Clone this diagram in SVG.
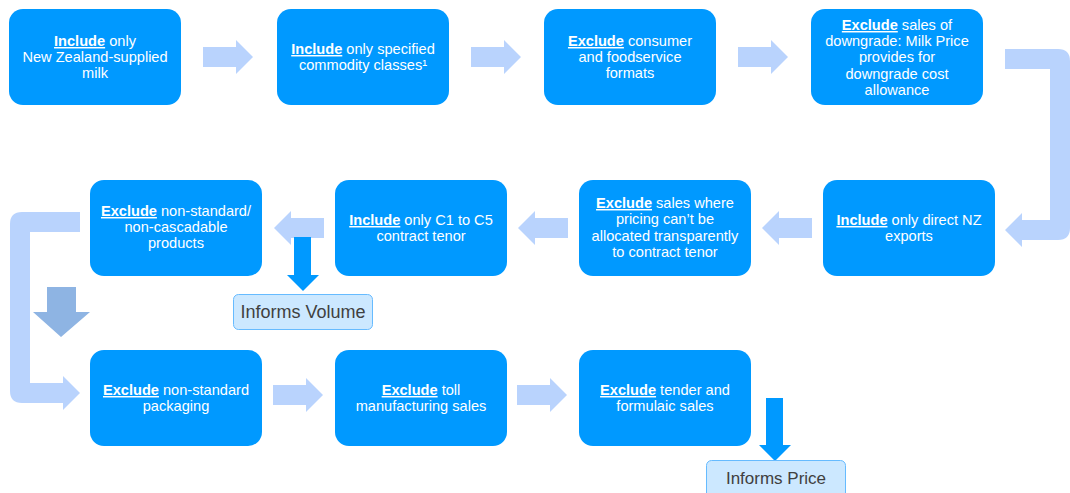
<svg xmlns="http://www.w3.org/2000/svg" width="1070" height="493" viewBox="0 0 1070 493">
<style>
.box{fill:#0099FF;}
.t{font-family:"Liberation Sans",Arial,sans-serif;font-size:14.6px;fill:#FFFFFF;text-anchor:middle;}
.k{font-weight:bold;text-decoration:underline;}
.arr{fill:#B9D3FD;}
.dn{fill:#0099FF;}
.dn2{fill:#8EB4E3;}
.inf{fill:#CCE8FF;stroke:#66BBFF;stroke-width:1;}
.it{font-family:"Liberation Sans",Arial,sans-serif;font-size:17px;fill:#404040;text-anchor:middle;}
</style>
<rect width="1070" height="493" fill="#FFFFFF"/>
<g id="connectors">
  <path class="arr" d="M203,47 H236 V40 L253,57 L236,74 V67 H203 Z"/>
  <path class="arr" d="M471,47 H504 V40 L521,57 L504,74 V67 H471 Z"/>
  <path class="arr" d="M738,47 H771 V40 L788,57 L771,74 V67 H738 Z"/>
  <path class="arr" d="M1005,49 H1058 Q1070,49 1070,61 V228 Q1070,240 1058,240 H1022 V247 L1005,230 L1022,213 V220 H1050 V69 H1005 Z"/>
  <path class="arr" d="M812,218 H779 V211 L762,228 L779,245 V238 H812 Z"/>
  <path class="arr" d="M568,218 H535 V211 L518,228 L535,245 V238 H568 Z"/>
  <path class="arr" d="M324,218 H291 V211 L274,228 L291,245 V238 H324 Z"/>
  <path class="dn" d="M294,237 H311 V275 H319 L303,291 L287,275 H294 Z"/>
  <path class="arr" d="M80,212 H22 Q10,212 10,224 V391 Q10,403 22,403 H63 V410 L80,393 L63,376 V383 H30 V232 H80 Z"/>
  <path class="dn2" d="M47,287 H76 V312 H90 L61,337 L33,312 H47 Z"/>
  <path class="arr" d="M273,385 H306 V378 L323,395 L306,412 V405 H273 Z"/>
  <path class="arr" d="M517,385 H550 V378 L567,395 L550,412 V405 H517 Z"/>
  <path class="dn" d="M766,398 H783 V445 H791 L775,461 L759,445 H766 Z"/>
</g>
<g id="n1"><rect class="box" x="9" y="9" width="172" height="96" rx="14"/>
<text class="t" x="95" y="46"><tspan class="k">Include</tspan> only</text>
<text class="t" x="95" y="62">New Zealand-supplied</text>
<text class="t" x="95" y="78">milk</text></g>
<g id="n2"><rect class="box" x="277" y="9" width="172" height="96" rx="14"/>
<text class="t" x="363" y="54"><tspan class="k">Include</tspan> only specified</text>
<text class="t" x="363" y="70">commodity classes¹</text></g>
<g id="n3"><rect class="box" x="544" y="9" width="172" height="96" rx="14"/>
<text class="t" x="630" y="46"><tspan class="k">Exclude</tspan> consumer</text>
<text class="t" x="630" y="62">and foodservice</text>
<text class="t" x="630" y="78">formats</text></g>
<g id="n4"><rect class="box" x="811" y="9" width="172" height="96" rx="14"/>
<text class="t" x="897" y="30"><tspan class="k">Exclude</tspan> sales of</text>
<text class="t" x="897" y="46">downgrade: Milk Price</text>
<text class="t" x="897" y="62">provides for</text>
<text class="t" x="897" y="79">downgrade cost</text>
<text class="t" x="897" y="95">allowance</text></g>
<g id="n5"><rect class="box" x="823" y="180" width="172" height="96" rx="14"/>
<text class="t" x="909" y="225"><tspan class="k">Include</tspan> only direct NZ</text>
<text class="t" x="909" y="241">exports</text></g>
<g id="n6"><rect class="box" x="579" y="180" width="172" height="96" rx="14"/>
<text class="t" x="665" y="208"><tspan class="k">Exclude</tspan> sales where</text>
<text class="t" x="665" y="224">pricing can’t be</text>
<text class="t" x="665" y="241">allocated transparently</text>
<text class="t" x="665" y="257">to contract tenor</text></g>
<g id="n7"><rect class="box" x="335" y="180" width="172" height="96" rx="14"/>
<text class="t" x="421" y="225"><tspan class="k">Include</tspan> only C1 to C5</text>
<text class="t" x="421" y="241">contract tenor</text></g>
<g id="n8"><rect class="box" x="90" y="180" width="172" height="96" rx="14"/>
<text class="t" x="176" y="216"><tspan class="k">Exclude</tspan> non-standard/</text>
<text class="t" x="176" y="232">non-cascadable</text>
<text class="t" x="176" y="248">products</text></g>
<g id="vol"><rect class="inf" x="233.5" y="294.5" width="139" height="35" rx="5"/>
<text class="it" x="303" y="318" style="font-size:18px">Informs Volume</text></g>
<g id="n9"><rect class="box" x="90" y="350" width="172" height="96" rx="14"/>
<text class="t" x="176" y="395"><tspan class="k">Exclude</tspan> non-standard</text>
<text class="t" x="176" y="411">packaging</text></g>
<g id="n10"><rect class="box" x="335" y="350" width="172" height="96" rx="14"/>
<text class="t" x="421" y="395"><tspan class="k">Exclude</tspan> toll</text>
<text class="t" x="421" y="411">manufacturing sales</text></g>
<g id="n11"><rect class="box" x="579" y="350" width="172" height="96" rx="14"/>
<text class="t" x="665" y="395"><tspan class="k">Exclude</tspan> tender and</text>
<text class="t" x="665" y="411">formulaic sales</text></g>
<g id="price"><rect class="inf" x="706.5" y="460.5" width="139" height="40" rx="5"/>
<text class="it" x="776" y="484">Informs Price</text></g>
</svg>
